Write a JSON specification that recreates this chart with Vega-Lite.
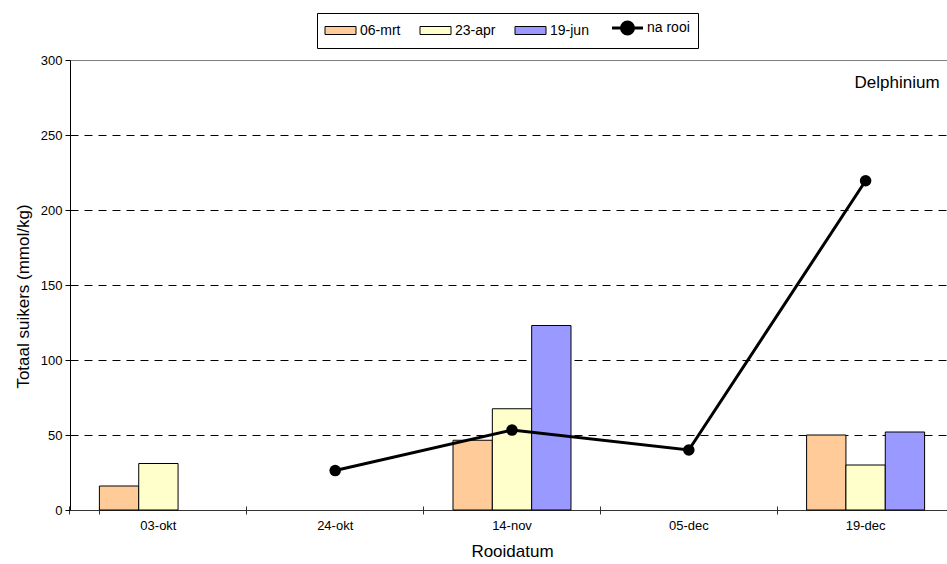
{
  "$schema": "https://vega.github.io/schema/vega-lite/v6.json",
  "width": 877,
  "height": 450,
  "autosize": {"type": "none"},
  "padding": {"left": 70, "top": 60, "right": 0, "bottom": 54},
  "background": "white",
  "config": {
    "view": {"stroke": null},
    "font": "Liberation Sans",
    "text": {"font": "Liberation Sans"}
  },
  "data": {
    "values": [
      {"rooidatum": "03-okt", "meting": "06-mrt", "suiker": 16},
      {"rooidatum": "03-okt", "meting": "23-apr", "suiker": 31},
      {"rooidatum": "14-nov", "meting": "06-mrt", "suiker": 46.5},
      {"rooidatum": "14-nov", "meting": "23-apr", "suiker": 67.5},
      {"rooidatum": "14-nov", "meting": "19-jun", "suiker": 123},
      {"rooidatum": "19-dec", "meting": "06-mrt", "suiker": 50},
      {"rooidatum": "19-dec", "meting": "23-apr", "suiker": 30},
      {"rooidatum": "19-dec", "meting": "19-jun", "suiker": 52},
      {"rooidatum": "24-okt", "meting": "na rooi", "suiker": 26.3},
      {"rooidatum": "14-nov", "meting": "na rooi", "suiker": 53.3},
      {"rooidatum": "05-dec", "meting": "na rooi", "suiker": 40},
      {"rooidatum": "19-dec", "meting": "na rooi", "suiker": 219.5}
    ]
  },
  "layer": [
    {
      "transform": [{"filter": "datum.meting !== 'na rooi'"}],
      "mark": {"type": "bar", "stroke": "black", "strokeWidth": 1},
      "encoding": {
        "x": {
          "field": "rooidatum",
          "type": "nominal",
          "scale": {
            "domain": ["03-okt", "24-okt", "14-nov", "05-dec", "19-dec"],
            "range": [0, 884],
            "paddingInner": 0.3326,
            "paddingOuter": 0.1663
          },
          "axis": {
            "orient": "bottom",
            "ticks": false,
            "grid": false,
            "domain": true,
            "domainColor": "#333333",
            "domainWidth": 1,
            "labelAngle": 0,
            "labelFontSize": 13,
            "labelColor": "black",
            "labelPadding": 9,
            "title": "Rooidatum",
            "titleFontSize": 17,
            "titleFontWeight": "normal",
            "titleColor": "black",
            "titlePadding": 11
          }
        },
        "xOffset": {
          "field": "meting",
          "type": "nominal",
          "scale": {"domain": ["06-mrt", "23-apr", "19-jun"], "paddingInner": 0, "paddingOuter": 0}
        },
        "y": {
          "field": "suiker",
          "type": "quantitative",
          "scale": {"domain": [0, 300], "nice": false},
          "axis": {
            "values": [0, 50, 100, 150, 200, 250, 300],
            "grid": true,
            "gridColor": {"condition": {"test": "datum.value === 300", "value": "#808080"}, "value": "black"},
            "gridDash": {"condition": {"test": "datum.value === 300", "value": []}, "value": [8, 6]},
            "gridWidth": 1,
            "domainColor": "black",
            "tickColor": "black",
            "tickSize": 5,
            "labelFontSize": 13,
            "labelColor": "black",
            "labelPadding": 3,
            "title": "Totaal suikers (mmol/kg)",
            "titleFontSize": 17,
            "titleFontWeight": "normal",
            "titleColor": "black",
            "titleAngle": 270,
            "titleAlign": "center",
            "titleBaseline": "middle",
            "titleX": -47,
            "titleY": 236
          }
        },
        "color": {
          "field": "meting",
          "type": "nominal",
          "scale": {
            "domain": ["06-mrt", "23-apr", "19-jun", "na rooi"],
            "range": ["#FFCC99", "#FFFFCC", "#9999FF", "#000000"]
          },
          "legend": {
            "orient": "none",
            "legendX": 247,
            "legendY": -47,
            "direction": "horizontal",
            "title": null,
            "strokeColor": "black",
            "fillColor": "white",
            "padding": 8,
            "labelFontSize": 14,
            "labelColor": "black",
            "labelFont": "Liberation Sans",
            "symbolSize": 100,
            "symbolStrokeColor": "black",
            "symbolStrokeWidth": 1,
            "labelOffset": 21,
            "columnPadding": 17,
            "encode": {
              "symbols": {
                "update": {
                  "shape": {"signal": "datum.label === 'na rooi' ? 'M-1.4,0H4.8M0.5,0A1.2,1.2 0 1,0 2.9,0A1.2,1.2 0 1,0 0.5,0Z' : 'M-1.4,-0.8L4.8,-0.8L4.8,0.8L-1.4,0.8Z'"},
                  "stroke": {"value": "black"},
                  "strokeWidth": {"signal": "datum.label === 'na rooi' ? 3 : 1"},
                  "opacity": {"value": 1},
                  "fillOpacity": {"value": 1},
                  "strokeOpacity": {"value": 1}
                }
              }
            }
          }
        }
      }
    },
    {
      "transform": [{"filter": "datum.meting === 'na rooi'"}],
      "mark": {
        "type": "line",
        "color": "black",
        "strokeWidth": 3,
        "point": {"filled": true, "size": 133, "opacity": 1, "color": "black"}
      },
      "encoding": {
        "x": {
          "field": "rooidatum",
          "type": "nominal",
          "axis": {
            "orient": "bottom",
            "labels": false,
            "domain": false,
            "grid": false,
            "ticks": true,
            "tickSize": 8,
            "tickColor": "#333333",
            "offset": -4,
            "bandPosition": -0.2492,
            "tickExtra": true,
            "title": null
          }
        },
        "y": {"field": "suiker", "type": "quantitative"}
      }
    },
    {
      "data": {"values": [{"soort": "Delphinium"}]},
      "mark": {"type": "text", "align": "right", "baseline": "middle", "fontSize": 17, "color": "black", "dx": 74},
      "encoding": {
        "x": {"datum": "19-dec", "type": "nominal", "axis": null},
        "y": {"datum": 285, "type": "quantitative"},
        "text": {"field": "soort"}
      }
    }
  ],
  "resolve": {"axis": {"x": "independent"}}
}
